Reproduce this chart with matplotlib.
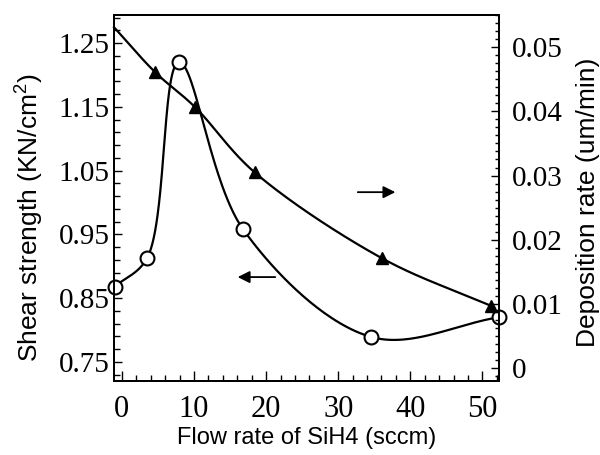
import matplotlib
matplotlib.use('Agg')
import matplotlib.pyplot as plt
from matplotlib.ticker import MultipleLocator, AutoMinorLocator
import numpy as np

plt.rcParams['font.family'] = ['Liberation Serif', 'DejaVu Serif']
plt.rcParams['mathtext.fontset'] = 'custom'
plt.rcParams['mathtext.rm'] = 'Liberation Sans'
plt.rcParams['mathtext.it'] = 'Liberation Sans'

# shear strength (left axis, open circles)
flow_shear = [-1.0, 3.5, 7.9, 16.8, 34.6, 52.3]
shear = [0.868, 0.913, 1.220, 0.958, 0.789, 0.820]

# deposition rate (right axis, filled triangles); first point has no marker
flow_dep = [-1.1, 4.6, 10.1, 18.4, 36.1, 51.2]
dep = [0.0531, 0.0461, 0.0407, 0.0305, 0.0171, 0.0097]

XLIM = (-1.1, 52.3)
YLIM_L = (0.72, 1.294)
YLIM_R = (-0.002, 0.055)


def catmull_rom(xs, ys, sx, sy, n=60):
    # centripetal Catmull-Rom, done in pixel-like units so the shape is right
    P = np.column_stack([np.asarray(xs) / sx, np.asarray(ys) / sy])
    P = np.vstack([2 * P[0] - P[1], P, 2 * P[-1] - P[-2]])
    out = []
    for i in range(1, len(P) - 2):
        p0, p1, p2, p3 = P[i - 1], P[i], P[i + 1], P[i + 2]
        t0 = 0.0
        t1 = t0 + np.linalg.norm(p1 - p0) ** 0.5
        t2 = t1 + np.linalg.norm(p2 - p1) ** 0.5
        t3 = t2 + np.linalg.norm(p3 - p2) ** 0.5
        t = np.linspace(t1, t2, n)[:, None]
        a1 = (t1 - t) / (t1 - t0) * p0 + (t - t0) / (t1 - t0) * p1
        a2 = (t2 - t) / (t2 - t1) * p1 + (t - t1) / (t2 - t1) * p2
        a3 = (t3 - t) / (t3 - t2) * p2 + (t - t2) / (t3 - t2) * p3
        b1 = (t2 - t) / (t2 - t0) * a1 + (t - t0) / (t2 - t0) * a2
        b2 = (t3 - t) / (t3 - t1) * a2 + (t - t1) / (t3 - t1) * a3
        c = (t2 - t) / (t2 - t1) * b1 + (t - t1) / (t2 - t1) * b2
        out.append(c)
    c = np.vstack(out)
    return c[:, 0] * sx, c[:, 1] * sy


fig = plt.figure(figsize=(6, 4.55), dpi=100)
ax = fig.add_axes([0.19, 0.1626, 0.6417, 0.8044])
ax2 = ax.twinx()

pw, ph = 385.0, 366.0
sx = (XLIM[1] - XLIM[0]) / pw

cx, cy = catmull_rom(flow_shear, shear, sx, (YLIM_L[1] - YLIM_L[0]) / ph)
ax.plot(cx, cy, color='black', lw=1.6, clip_on=False)
ax.plot(flow_shear, shear, 'o', ms=10, mfc='white', mec='black', mew=1.5,
        clip_on=False, zorder=5)

tx, ty = catmull_rom(flow_dep, dep, sx, (YLIM_R[1] - YLIM_R[0]) / ph)
ax2.plot(tx, ty, color='black', lw=1.6, clip_on=False)
ax2.plot(flow_dep[1:], dep[1:], '^', ms=9, color='black', clip_on=False, zorder=5)

ax.set_xlim(*XLIM)
ax.set_ylim(*YLIM_L)
ax2.set_ylim(*YLIM_R)

ax.xaxis.set_major_locator(MultipleLocator(10))
ax.xaxis.set_minor_locator(AutoMinorLocator(5))
ax.yaxis.set_major_locator(MultipleLocator(0.1))
ax.yaxis.set_minor_locator(AutoMinorLocator(5))
ax.set_yticks([0.75, 0.85, 0.95, 1.05, 1.15, 1.25])
ax.set_yticklabels(['0.75', '0.85', '0.95', '1.05', '1.15', '1.25'])
ax2.yaxis.set_major_locator(MultipleLocator(0.01))
ax2.yaxis.set_minor_locator(AutoMinorLocator(8))
ax2.set_yticks([0, 0.01, 0.02, 0.03, 0.04, 0.05])
ax2.set_yticklabels(['0', '0.01', '0.02', '0.03', '0.04', '0.05'])

ax.tick_params(axis='x', which='both', direction='in', top=False,
               labelsize=22, pad=10)
ax.tick_params(axis='x', which='major', length=7, width=1)
ax.tick_params(axis='x', which='minor', length=4, width=1)
ax.tick_params(axis='y', which='both', direction='in', labelsize=21, pad=3)
ax.tick_params(axis='y', which='major', length=6, width=1)
ax.tick_params(axis='y', which='minor', length=4, width=1)
ax2.tick_params(axis='y', which='both', direction='in', labelsize=21, pad=9)
ax2.tick_params(axis='y', which='major', length=6, width=1)
ax2.tick_params(axis='y', which='minor', length=3, width=1)

for a in (ax, ax2):
    for s in a.spines.values():
        s.set_linewidth(1.4)

sans = ['Liberation Sans', 'DejaVu Sans']
ax.set_xlabel('Flow rate of SiH4 (sccm)', fontsize=17, family=sans)
ax.xaxis.set_label_coords(0.501, -0.156)
ax.xaxis.label.set_va('center')
ax.set_ylabel('Shear strength (KN/cm$^2$)', fontsize=19, family=sans)
ax.yaxis.set_label_coords(-0.218, 0.445)
ax.yaxis.label.set_va('center')
ax2.set_ylabel('Deposition rate (um/min)', fontsize=19, family=sans)
ax2.yaxis.set_label_coords(1.231, 0.489)
ax2.yaxis.label.set_va('center')

arrow = dict(arrowstyle='-|>', color='black', lw=1.3, mutation_scale=18)
ax.annotate('', xy=(0.314, 0.284), xytext=(0.426, 0.284),
            xycoords='axes fraction', textcoords='axes fraction', arrowprops=arrow)
ax.annotate('', xy=(0.738, 0.516), xytext=(0.626, 0.516),
            xycoords='axes fraction', textcoords='axes fraction', arrowprops=arrow)

fig.savefig('out.png', dpi=100)
